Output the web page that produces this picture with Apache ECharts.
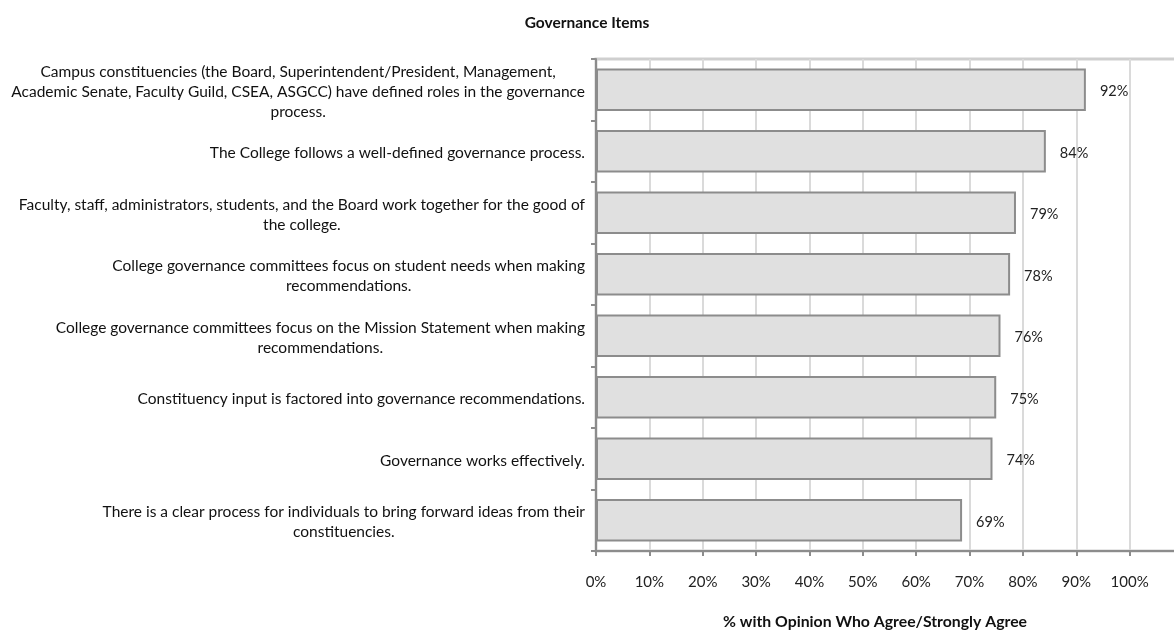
<!DOCTYPE html>
<html>
<head>
<meta charset="utf-8">
<script src="https://cdn.jsdelivr.net/npm/echarts@6/dist/echarts.min.js"></script>
<style>
  html, body { margin: 0; padding: 0; background: #fff; }
  #chart { width: 1174px; height: 636px; }
</style>
</head>
<body>
<div id="chart"></div>
<script>
// items, wrapped the way the original chart wraps them
var items = [
  "Campus constituencies (the Board, Superintendent/President, Management,\nAcademic Senate, Faculty Guild, CSEA, ASGCC) have defined roles in the governance\nprocess.",
  "The College follows a well-defined governance process.",
  "Faculty, staff, administrators, students, and the Board work together for the good of\nthe college.",
  "College governance committees focus on student needs when making\nrecommendations.",
  "College governance committees focus on the Mission Statement when making\nrecommendations.",
  "Constituency input is factored into governance recommendations.",
  "Governance works effectively.",
  "There is a clear process for individuals to bring forward ideas from their\nconstituencies."
];
// % agree / strongly agree
var agreePct = [91.8, 84.3, 78.7, 77.6, 75.8, 75.0, 74.3, 68.6];
var tickLabels = ["0%", "10%", "20%", "30%", "40%", "50%", "60%", "70%", "80%", "90%", "100%"];

var font = "Lato, 'Open Sans', sans-serif";
var chart = echarts.init(document.getElementById("chart"));

var option = {
  animation: false,
  backgroundColor: "#fff",
  title: [
    {
      text: "Governance Items",
      left: "center",
      top: 10,
      textStyle: { fontFamily: font, fontSize: 15.5, fontWeight: "bold", color: "#111" }
    },
    {
      text: "% with Opinion Who Agree/Strongly Agree",
      left: 870,
      textAlign: "center",
      top: 609,
      textStyle: { fontFamily: font, fontSize: 15.8, fontWeight: "bold", color: "#111" }
    }
  ],
  grid: {
    left: 596,
    right: -9,
    top: 59,
    bottom: 85,
    show: true,
    borderColor: "#cfcfcf",
    borderWidth: 3,
    outerBoundsMode: "none"
  },
  xAxis: {
    type: "value",
    min: 0,
    max: 110,
    interval: 10,
    axisLine: { show: true, lineStyle: { color: "#8c8c8c", width: 2 } },
    axisTick: { show: true, length: 5, lineStyle: { color: "#8c8c8c", width: 2 } },
    splitLine: { show: true, lineStyle: { color: "#dadada", width: 2 } },
    axisLabel: {
      margin: 24,
      fontFamily: font,
      fontSize: 15,
      color: "#222",
      formatter: function (v) {
        var i = Math.round(v / 10);
        return tickLabels[i] || "";
      }
    }
  },
  yAxis: {
    type: "category",
    inverse: true,
    data: items,
    axisLine: { show: true, lineStyle: { color: "#8c8c8c", width: 2 } },
    axisTick: { show: true, length: 5, lineStyle: { color: "#8c8c8c", width: 2 } },
    axisLabel: {
      margin: 11,
      padding: [4, 0, 0, 0],
      fontFamily: font,
      fontSize: 15.5,
      lineHeight: 20,
      color: "#111",
      align: "right",
      formatter: function (v) {
        if (v.indexOf("\n") < 0) return v;
        return v.split("\n").map(function (s) { return "{c|" + s + "}"; }).join("\n");
      },
      rich: {
        c: { align: "center", fontFamily: font, fontSize: 15.5, lineHeight: 20, color: "#111" }
      }
    }
  },
  series: [
    {
      type: "bar",
      data: agreePct,
      barCategoryGap: "31%",
      itemStyle: { color: "#e0e0e0", borderColor: "#8c8c8c", borderWidth: 2 },
      label: {
        show: true,
        position: "right",
        distance: 14,
        offset: [0, 2],
        fontFamily: font,
        fontSize: 14.5,
        color: "#222",
        formatter: function (p) { return Math.round(p.value) + "%"; }
      }
    }
  ]
};

chart.setOption(option);
</script>
</body>
</html>
